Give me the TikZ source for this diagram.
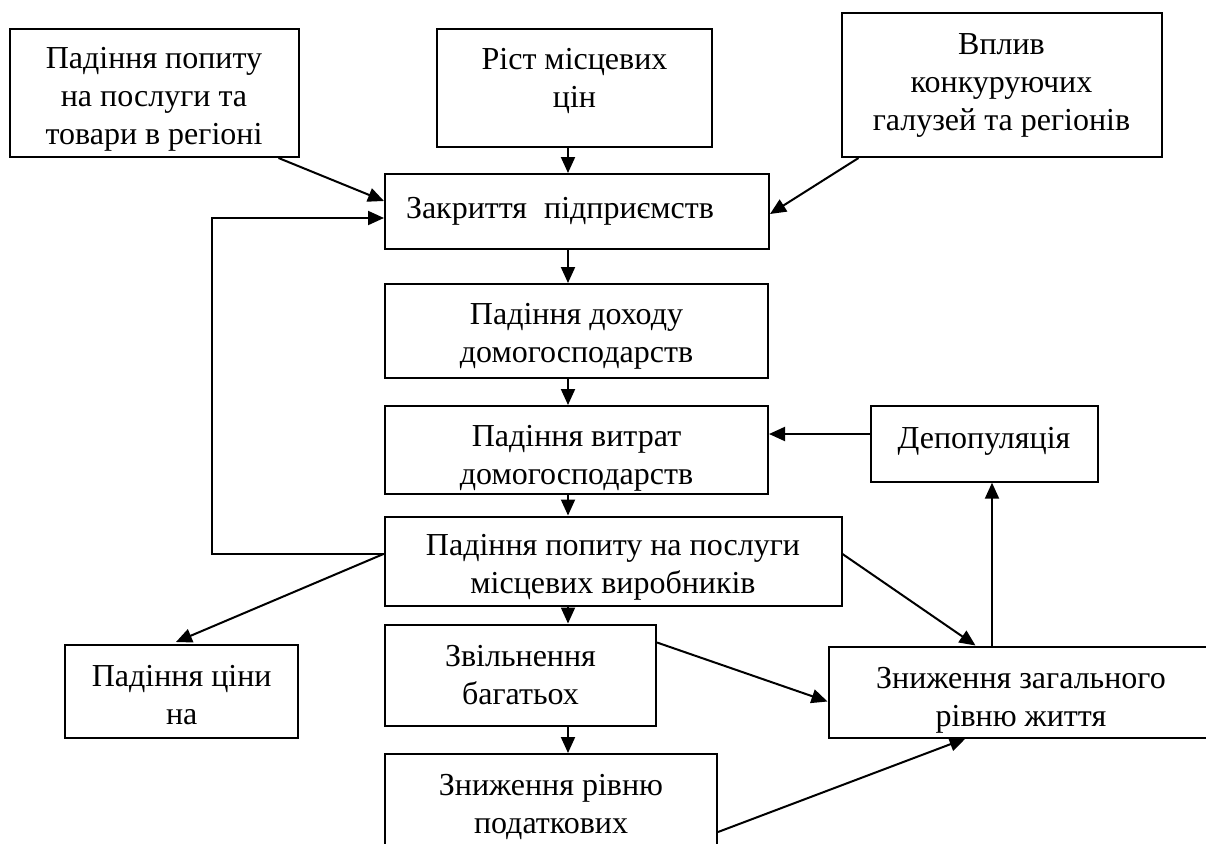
\documentclass[tikz,border=0pt]{standalone}
\usepackage{fontspec}
\setmainfont{Liberation Serif}
\usetikzlibrary{arrows.meta,calc}
\begin{document}
\begin{tikzpicture}[x=1pt,y=-1pt,
  box/.style={draw,line width=2pt,inner sep=0pt,align=center,font=\fontsize{32}{38}\selectfont},
  txt/.style={inner sep=0pt,align=center,font=\fontsize{32}{38}\selectfont},
  arr/.style={line width=2pt,-{Triangle[length=16pt,width=14pt]}}]
\useasboundingbox (0,0) rectangle (1206,843);
\clip (0,0) rectangle (1206,843);
\fill[white] (0,0) rectangle (1206,843);

\node[box,minimum width=289pt,minimum height=128pt,
  label={[txt,yshift=-6pt]center:Падіння попиту\\на послуги та\\товари в регіоні}] (A) at (154,93) {};
\node[box,minimum width=275pt,minimum height=118pt,
  label={[txt,yshift=7pt]center:Ріст місцевих\\цін}] (B) at (574.5,88) {};
\node[box,minimum width=320pt,minimum height=144pt,
  label={[txt]center:Вплив\\конкуруючих\\галузей та регіонів}] (C) at (1001.5,85) {};
\node[box,minimum height=75pt,text width=342pt,inner xsep=21pt,align=left] (D) at (577,211.5) {Закриття\hspace{17pt}підприємств};
\node[box,minimum width=383pt,minimum height=94pt,
  label={[txt,yshift=-5pt]center:Падіння доходу\\домогосподарств}] (E) at (576.5,331) {};
\node[box,minimum width=383pt,minimum height=88pt,
  label={[txt,yshift=-8pt]center:Падіння витрат\\домогосподарств}] (F) at (576.5,450) {};
\node[box,minimum width=227pt,minimum height=76pt,
  label={[txt,yshift=2pt]center:Депопуляція}] (G) at (984,443.7) {};
\node[box,minimum width=457pt,minimum height=89pt,
  label={[txt,yshift=-6pt]center:Падіння попиту на послуги\\місцевих виробників}] (H) at (613,561) {};
\node[box,minimum width=233.5pt,minimum height=93pt,
  label={[txt,yshift=-4pt]center:Падіння ціни\\на}] (L) at (181.7,691.5) {};
\node[box,minimum width=271pt,minimum height=101pt,
  label={[txt]center:Звільнення\\багатьох}] (I) at (520.5,675) {};
\node[box,minimum width=385pt,minimum height=91pt,
  label={[txt,yshift=-8pt]center:Зниження загального\\рівню життя}] (J) at (1021,692) {};
\node[box,minimum width=332pt,minimum height=100pt,
  label={[txt,yshift=-3pt]center:Зниження рівню\\податкових}] (K) at (551,804) {};

\coordinate (cx) at (568,0);
\coordinate (cg) at (0,434);
\coordinate (ch) at (0,554);
\coordinate (cd) at (0,218);
\coordinate (fbx) at (212,0);
\coordinate (cj) at (992,0);

\draw[arr] ($(A.south east)+(-21,0)$) -- ($(D.north west)+(0,28)$);
\draw[arr] (B.south -| cx) -- (D.north -| cx);
\draw[arr] ($(C.south west)+(18,0)$) -- ($(D.north east)+(0,41)$);
\draw[arr] (D.south -| cx) -- (E.north -| cx);
\draw[arr] (E.south -| cx) -- (F.north -| cx);
\draw[arr] (F.south -| cx) -- (H.north -| cx);
\draw[arr] (G.west |- cg) -- (F.east |- cg);
\draw[arr] (H.west |- ch) -| (fbx |- cd) -- (D.west |- cd);
\draw[arr] (H.west |- ch) -- ($(L.north west)+(112,-2)$);
\draw[arr] (H.east |- ch) -- ($(J.north west)+(148,0)$);
\draw[arr] (H.south -| cx) -- (I.north -| cx);
\draw[arr] (I.south -| cx) -- (K.north -| cx);
\draw[arr] ($(I.north east)+(0,19)$) -- ($(J.north west)+(0,56)$);
\draw[arr] ($(K.north east)+(0,79)$) -- ($(J.south west)+(138,0)$);
\draw[arr] (J.north -| cj) -- (G.south -| cj);
\end{tikzpicture}
\end{document}
